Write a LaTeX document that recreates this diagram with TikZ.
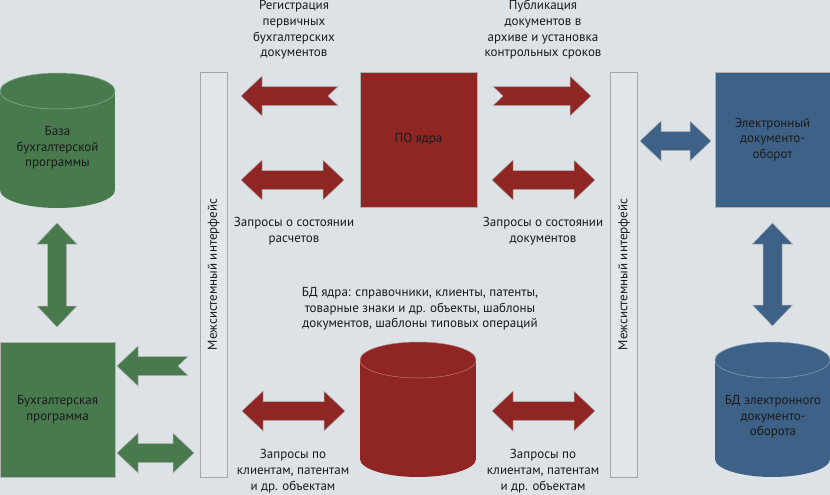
\documentclass[tikz,border=0pt]{standalone}
\usepackage{fontspec}
\setmainfont{PT Sans}
\usetikzlibrary{positioning, calc}
\definecolor{bgc}{HTML}{DDE2E6}
\definecolor{redc}{HTML}{8F2624}
\definecolor{bluec}{HTML}{3E6287}
\definecolor{greenc}{HTML}{487A4E}
\definecolor{txtc}{HTML}{1A1A1A}

\tikzset{
	lbl/.style={align=center, text=txtc, font=\fontsize{13}{15.7}\selectfont, inner sep=0pt},
	blk/.style={draw=black!30, line width=0.5pt},
	box/.style={blk, lbl, minimum width=#1, minimum height=135},
	bar/.style={draw=black!35, line width=0.6pt, fill=bgc!85!white, minimum width=27, minimum height=405},
}

% block arrows: colour, then positions
\newcommand{\hdarr}[4]{\filldraw[blk, fill=#1] (#2,#4) -- (#2+21,#4-20) -- (#2+21,#4-9.5) -- (#3-21,#4-9.5) -- (#3-21,#4-20) -- (#3,#4) -- (#3-21,#4+20) -- (#3-21,#4+9.5) -- (#2+21,#4+9.5) -- (#2+21,#4+20) -- cycle;}
\newcommand{\vdarr}[4]{\filldraw[blk, fill=#1] (#2,#3) -- (#2+20,#3+21) -- (#2+9.5,#3+21) -- (#2+9.5,#4-21) -- (#2+20,#4-21) -- (#2,#4) -- (#2-20,#4-21) -- (#2-9.5,#4-21) -- (#2-9.5,#3+21) -- (#2-20,#3+21) -- cycle;}
\newcommand{\larr}[4]{\filldraw[blk, fill=#1] (#2,#4) -- (#2+21,#4-20) -- (#2+21,#4-9.5) -- (#3,#4-9.5) -- (#3-10,#4) -- (#3,#4+9.5) -- (#2+21,#4+9.5) -- (#2+21,#4+20) -- cycle;}
\newcommand{\rarr}[4]{\filldraw[blk, fill=#1] (#3,#4) -- (#3-21,#4-20) -- (#3-21,#4-9.5) -- (#2,#4-9.5) -- (#2+10,#4) -- (#2,#4+9.5) -- (#3-21,#4+9.5) -- (#3-21,#4+20) -- cycle;}
% cylinder: colour, x left, x right, y top, y bottom
\newcommand{\cyl}[5]{%
	\fill[#1] (#2,#4+18) rectangle (#3,#5-18);
	\fill[#1] ({(#2+#3)/2},#5-18) ellipse [x radius={(#3-#2)/2}, y radius=18];
	\fill[#1] ({(#2+#3)/2},#4+18) ellipse [x radius={(#3-#2)/2}, y radius=18];
	\draw[#1!60!white, line width=0.5pt] ({(#2+#3)/2},#4+18) ellipse [x radius={(#3-#2)/2}, y radius=18];}

\begin{document}
\begin{tikzpicture}[x=1pt, y=-1pt]
	\fill[bgc] (0,0) rectangle (830,495);
	\useasboundingbox (0,0) rectangle (830,495);

	% accounting side
	\cyl{greenc}{0}{115}{73}{208}
	\node[lbl] (base) at (57.5,148) {База\\бухгалтерской\\программы};
	\node[box=115, fill=greenc] (acct) at (57.5,409.5) {Бухгалтерская\\программа};
	\vdarr{greenc}{57}{223}{327}
	\larr{greenc}{117}{188}{366}
	\hdarr{greenc}{117}{194}{453}

	% interface bars
	\node[bar] (ifl) at (213.5,274.5) {};
	\node[lbl, rotate=90] at (ifl) {Межсистемный интерфейс};
	\node[bar] (ifr) at (624,274.5) {};
	\node[lbl, rotate=90] at (ifr) {Межсистемный интерфейс};

	% core
	\node[box=117, fill=redc] (core) at (418.5,139.5) {ПО ядра};
	\cyl{redc}{360}{476}{342}{477}
	\node[lbl] (coredb) at (420,309) {БД ядра: справочники, клиенты, патенты,\\товарные знаки и др. объекты, шаблоны\\документов, шаблоны типовых операций};
	\larr{redc}{241}{338}{96}
	\rarr{redc}{493}{591}{96}
	\hdarr{redc}{241}{344}{180}
	\hdarr{redc}{492}{595}{180}
	\hdarr{redc}{242}{345}{411}
	\hdarr{redc}{492}{595}{411}
	\node[lbl] (reg) at (294,30) {Регистрация\\первичных\\бухгалтерских\\документов};
	\node[lbl] (pub) at (543,30) {Публикация\\документов в\\архиве и установка\\контрольных сроков};
	\node[lbl] (qcalc) at (294,231) {Запросы о состоянии\\расчетов};
	\node[lbl] (qdoc) at (543,231) {Запросы о состоянии\\документов};
	\node[lbl] (qobjl) at (293,471) {Запросы по\\клиентам, патентам\\и др. объектам};
	\node[lbl] (qobjr) at (543,471) {Запросы по\\клиентам, патентам\\и др. объектам};

	% document flow side
	\node[box=115, fill=bluec] (edo) at (772.5,139.5) {Электронный\\документо-\\оборот};
	\hdarr{bluec}{640}{711}{141}
	\vdarr{bluec}{772.5}{223}{326}
	\cyl{bluec}{715}{830}{342}{477}
	\node[lbl] (edodb) at (773,417) {БД электронного\\документо-\\оборота};
\end{tikzpicture}
\end{document}
